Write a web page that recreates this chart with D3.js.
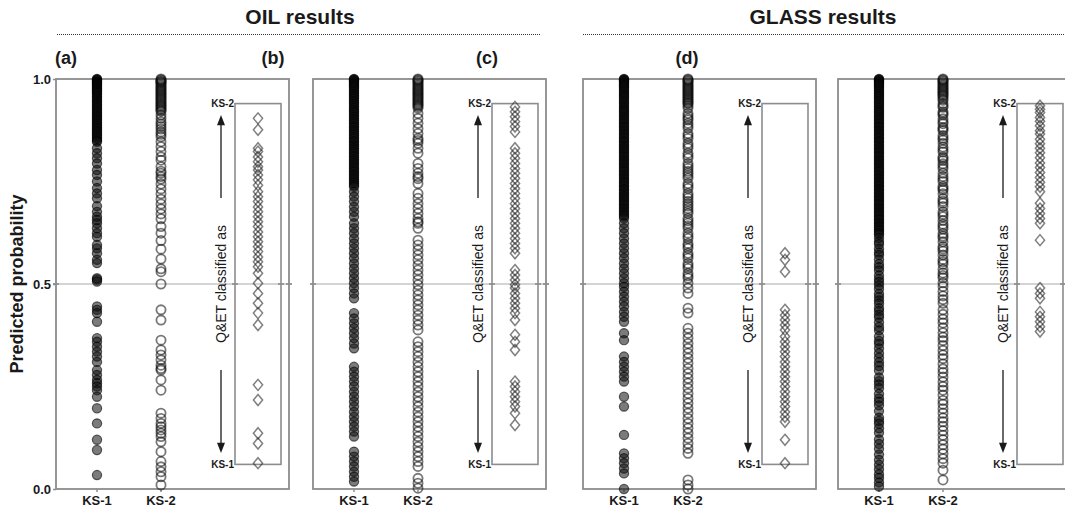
<!DOCTYPE html>
<html>
<head>
<meta charset="utf-8">
<script src="https://cdn.jsdelivr.net/npm/d3@7"></script>
<style>
  html, body { margin: 0; padding: 0; background: #fff; }
  svg { display: block; font-family: "Liberation Sans", Arial, sans-serif; }
</style>
</head>
<body>
<svg id="chart" width="1065" height="512"></svg>
<script>
// ---- Data: predicted probabilities per group ----
const groups = ["KS-1", "KS-2"];
const yTicks = [0.0, 0.5, 1.0];
const sectionTitles = ["OIL results", "GLASS results"];
const panelLetters = ["(a)", "(b)", "(c)", "(d)"];

// OIL, first model
const oil1KS1 = [1.0, 0.999, 0.997, 0.995, 0.993, 0.991, 0.989, 0.987, 0.984, 0.981, 0.978, 0.975, 0.972, 0.969, 0.966, 0.962, 0.958, 0.954, 0.95, 0.946, 0.942, 0.938, 0.934, 0.93, 0.926, 0.922, 0.918, 0.914, 0.91, 0.906, 0.902, 0.898, 0.894, 0.89, 0.886, 0.882, 0.878, 0.874, 0.87, 0.866, 0.862, 0.858, 0.854, 0.85,
  0.847, 0.831, 0.819, 0.807, 0.794, 0.778, 0.766, 0.75, 0.734, 0.721, 0.709, 0.69, 0.676, 0.664, 0.656, 0.648, 0.636, 0.624, 0.615, 0.595, 0.587, 0.575, 0.559, 0.551, 0.514, 0.511, 0.506,
  0.445, 0.437, 0.429, 0.408, 0.368, 0.359, 0.347, 0.335, 0.323, 0.31, 0.29, 0.278, 0.266, 0.258, 0.25, 0.241, 0.225, 0.197, 0.16, 0.12, 0.095, 0.034];
const oil1KS2 = [1.0, 0.998, 0.996, 0.994, 0.992, 0.99, 0.987, 0.984, 0.981, 0.978, 0.975, 0.972, 0.969, 0.966, 0.963, 0.96, 0.957, 0.954, 0.951, 0.948, 0.945, 0.942, 0.939, 0.936, 0.933, 0.93, 0.927, 0.924, 0.921,
  0.912, 0.904, 0.896, 0.89, 0.884, 0.878, 0.871, 0.865, 0.859, 0.847, 0.835, 0.823, 0.81, 0.802, 0.786, 0.775, 0.77, 0.762, 0.756, 0.744, 0.732, 0.72, 0.707, 0.695, 0.683, 0.671, 0.659, 0.64, 0.624, 0.606, 0.585, 0.561, 0.537, 0.53, 0.5,
  0.437, 0.412, 0.363, 0.339, 0.327, 0.315, 0.302, 0.294, 0.29, 0.266, 0.241, 0.185, 0.172, 0.16, 0.152, 0.144, 0.136, 0.128, 0.115, 0.091, 0.067, 0.054, 0.042, 0.03, 0.01];
const oil1QET = [0.904, 0.876, 0.831, 0.823, 0.81, 0.798, 0.786, 0.778, 0.766, 0.754, 0.741, 0.725, 0.713, 0.701, 0.688, 0.676, 0.664, 0.652, 0.64, 0.627, 0.615, 0.603, 0.591, 0.579, 0.566, 0.554, 0.542,
  0.526, 0.502, 0.477, 0.453, 0.429, 0.4, 0.254, 0.217, 0.136, 0.111, 0.063];

// OIL, second model
const oil2KS1 = [1.0, 0.999, 0.997, 0.995, 0.992, 0.989, 0.986, 0.983, 0.98, 0.976, 0.972, 0.968, 0.964, 0.96, 0.956, 0.952, 0.947, 0.943, 0.939, 0.934, 0.93, 0.925, 0.921, 0.917, 0.912, 0.908, 0.903, 0.899, 0.894, 0.89, 0.885, 0.881, 0.876, 0.872, 0.867, 0.863, 0.858, 0.854, 0.849, 0.845, 0.84, 0.836, 0.831, 0.827, 0.822, 0.818, 0.813, 0.809, 0.804, 0.8, 0.795, 0.791, 0.786, 0.782, 0.777, 0.773, 0.768, 0.764, 0.759, 0.755, 0.75, 0.746, 0.741, 0.737,
  0.725, 0.713, 0.701, 0.688, 0.676, 0.664, 0.648, 0.636, 0.624, 0.611, 0.599, 0.587, 0.575, 0.563, 0.55, 0.538, 0.526, 0.514, 0.502, 0.49, 0.477, 0.465,
  0.429, 0.416, 0.404, 0.392, 0.38, 0.368, 0.355, 0.343, 0.298, 0.286, 0.274, 0.262, 0.25, 0.237, 0.225, 0.213, 0.201, 0.188, 0.176, 0.164, 0.152, 0.14, 0.128,
  0.091, 0.079, 0.067, 0.055, 0.042, 0.03, 0.018];
const oil2KS2 = [1.0, 0.998, 0.996, 0.993, 0.99, 0.987, 0.984, 0.981, 0.978, 0.975, 0.972, 0.969, 0.966, 0.963, 0.96, 0.957, 0.954, 0.951, 0.948, 0.945, 0.942, 0.939, 0.936, 0.933, 0.929,
  0.916, 0.904, 0.892, 0.879, 0.867, 0.855, 0.85, 0.843, 0.831, 0.819, 0.794, 0.782, 0.77, 0.762, 0.757, 0.745, 0.721, 0.709, 0.696, 0.684, 0.672, 0.66, 0.652, 0.648, 0.636,
  0.607, 0.595, 0.583, 0.571, 0.559, 0.546, 0.534, 0.522, 0.51, 0.498, 0.485, 0.473, 0.461, 0.449, 0.437, 0.424, 0.412, 0.4, 0.388,
  0.359, 0.347, 0.335, 0.323, 0.31, 0.298, 0.286, 0.274, 0.262, 0.25, 0.237, 0.225, 0.213, 0.201, 0.188, 0.176, 0.164, 0.152, 0.14, 0.128, 0.115, 0.103, 0.091, 0.079, 0.067, 0.055,
  0.026, 0.014, 0.002];
const oil2QET = [0.932, 0.92, 0.908, 0.896, 0.884, 0.871, 0.831, 0.819, 0.807, 0.794, 0.782, 0.77, 0.758, 0.745, 0.733, 0.721, 0.709, 0.696, 0.684, 0.672, 0.66, 0.648, 0.636, 0.624, 0.611, 0.599, 0.587, 0.575,
  0.534, 0.522, 0.51, 0.498, 0.49, 0.477, 0.465, 0.453, 0.441, 0.429, 0.412, 0.376, 0.359, 0.339, 0.262, 0.25, 0.237, 0.225, 0.213, 0.201, 0.185, 0.156];

// GLASS, first model
const glass1KS1 = [1.0, 0.999, 0.997, 0.995, 0.992, 0.989, 0.986, 0.983, 0.98, 0.976, 0.972, 0.968, 0.964, 0.96, 0.956, 0.952, 0.947, 0.943, 0.939, 0.934, 0.93, 0.925, 0.921, 0.917, 0.912, 0.908, 0.903, 0.899, 0.894, 0.89, 0.885, 0.881, 0.876, 0.872, 0.867, 0.863, 0.858, 0.854, 0.849, 0.845, 0.84, 0.836, 0.831, 0.827, 0.822, 0.818, 0.813, 0.809, 0.804, 0.8, 0.795, 0.791, 0.786, 0.782, 0.777, 0.773, 0.768, 0.764, 0.759, 0.755, 0.75, 0.746, 0.741, 0.737,
  0.732, 0.728, 0.723, 0.719, 0.714, 0.71, 0.705, 0.701, 0.696, 0.692, 0.687, 0.683, 0.678, 0.674, 0.669, 0.665, 0.66,
  0.648, 0.636, 0.624, 0.611, 0.599, 0.587, 0.575, 0.563, 0.55, 0.538, 0.526, 0.514, 0.502, 0.493, 0.481, 0.469, 0.457, 0.445, 0.432, 0.42, 0.408, 0.38, 0.363,
  0.323, 0.31, 0.298, 0.286, 0.274, 0.262, 0.225, 0.201, 0.132, 0.087, 0.075, 0.063, 0.05, 0.038, 0.0];
const glass1KS2 = [1.0, 0.998, 0.996, 0.993, 0.99, 0.987, 0.984, 0.981, 0.978, 0.975, 0.972, 0.969, 0.966, 0.963, 0.96, 0.957, 0.954, 0.951, 0.948, 0.945, 0.942, 0.94,
  0.935, 0.929, 0.916, 0.91, 0.904, 0.9, 0.892, 0.886, 0.88, 0.867, 0.861, 0.855, 0.843, 0.837, 0.831, 0.819, 0.813, 0.807, 0.794, 0.788, 0.782, 0.775, 0.77, 0.764, 0.758, 0.745, 0.739, 0.733, 0.721, 0.715, 0.709, 0.702, 0.696, 0.69, 0.684, 0.678, 0.672, 0.66, 0.654, 0.648, 0.642, 0.636, 0.624, 0.617, 0.611, 0.599, 0.593, 0.587, 0.575, 0.569, 0.563, 0.55, 0.544, 0.538, 0.526, 0.52, 0.514, 0.502, 0.49, 0.477,
  0.441, 0.429, 0.392, 0.38, 0.368, 0.355, 0.343, 0.331, 0.319, 0.307, 0.294, 0.282, 0.27, 0.258, 0.246, 0.233, 0.221, 0.209, 0.197, 0.185, 0.172, 0.16, 0.148, 0.136, 0.124, 0.111, 0.099, 0.087,
  0.022, 0.01, 0.0];
const glass1QET = [0.575, 0.559, 0.53, 0.437, 0.424, 0.412, 0.4, 0.388, 0.372, 0.359, 0.347, 0.335, 0.323, 0.31, 0.298, 0.286, 0.274, 0.262, 0.25, 0.237, 0.225, 0.213, 0.201, 0.188, 0.176, 0.164, 0.12, 0.063];

// GLASS, second model
const glass2KS1 = [1.0, 0.999, 0.997, 0.995, 0.992, 0.989, 0.986, 0.983, 0.98, 0.976, 0.972, 0.968, 0.964, 0.96, 0.956, 0.952, 0.947, 0.943, 0.939, 0.934, 0.93, 0.925, 0.921, 0.917, 0.912, 0.908, 0.903, 0.899, 0.894, 0.89, 0.885, 0.881, 0.876, 0.872, 0.867, 0.863, 0.858, 0.854, 0.849, 0.845, 0.84, 0.836, 0.831, 0.827, 0.822, 0.818, 0.813, 0.809, 0.804, 0.8, 0.795, 0.791, 0.786, 0.782, 0.777, 0.773, 0.768, 0.764, 0.759, 0.755, 0.75, 0.746, 0.741, 0.737,
  0.732, 0.728, 0.723, 0.719, 0.714, 0.71, 0.705, 0.701, 0.696, 0.692, 0.687, 0.683, 0.678, 0.674, 0.669, 0.665, 0.66, 0.656, 0.651, 0.647, 0.642, 0.638, 0.633, 0.629, 0.624, 0.62,
  0.612, 0.603, 0.597, 0.586, 0.577, 0.571, 0.56, 0.549, 0.541, 0.533, 0.521, 0.512, 0.505, 0.497, 0.488, 0.476, 0.468, 0.46, 0.452, 0.441, 0.434, 0.425, 0.418, 0.406, 0.395, 0.387, 0.372, 0.361, 0.354, 0.343, 0.331, 0.32, 0.309, 0.3, 0.289, 0.272, 0.263, 0.255, 0.246, 0.232, 0.221, 0.213, 0.204, 0.19, 0.174, 0.166, 0.159, 0.148, 0.137, 0.121, 0.11, 0.098, 0.084, 0.071, 0.059, 0.048, 0.036, 0.027, 0.016, 0.006];
const glass2KS2 = [1.0, 0.998, 0.996, 0.993, 0.99, 0.987, 0.984, 0.981, 0.978, 0.975, 0.972, 0.969, 0.966, 0.963, 0.96, 0.957,
  0.952, 0.948, 0.94, 0.935, 0.931, 0.92, 0.916, 0.912, 0.903, 0.896, 0.891, 0.882, 0.878, 0.874, 0.862, 0.856, 0.851, 0.843, 0.834, 0.828, 0.822, 0.81, 0.806, 0.801, 0.793, 0.787, 0.781, 0.77, 0.762, 0.756, 0.75, 0.738, 0.733, 0.729, 0.72, 0.708, 0.702, 0.697, 0.689, 0.676, 0.67, 0.664, 0.655, 0.646, 0.64, 0.634, 0.623, 0.617, 0.612, 0.603, 0.591, 0.586, 0.58, 0.571, 0.56, 0.554, 0.548, 0.536, 0.527, 0.521, 0.515, 0.503, 0.494, 0.482, 0.471, 0.462, 0.453,
  0.437, 0.426, 0.414, 0.405, 0.393, 0.381, 0.37, 0.362, 0.35, 0.338, 0.327, 0.318, 0.305, 0.293, 0.284, 0.273, 0.261, 0.25, 0.241, 0.229, 0.216, 0.207, 0.196, 0.185, 0.173, 0.164, 0.153, 0.142, 0.131, 0.12, 0.108, 0.097, 0.086, 0.074, 0.063, 0.046, 0.022];
const glass2QET = [0.935, 0.926, 0.918, 0.906, 0.897, 0.886, 0.874, 0.866, 0.853, 0.842, 0.831, 0.82, 0.808, 0.795, 0.784, 0.772, 0.76, 0.748, 0.737, 0.725,
  0.697, 0.684, 0.672, 0.66, 0.648, 0.607, 0.49, 0.477, 0.465, 0.432, 0.42, 0.408, 0.396, 0.384];

// ---- Layout ----
const panelLeft = [56, 313, 583, 838];
const panelWidth = 233;
const panels = [
  { ks1: oil1KS1, ks2: oil1KS2, qet: oil1QET },
  { ks1: oil2KS1, ks2: oil2KS2, qet: oil2QET },
  { ks1: glass1KS1, ks2: glass1KS2, qet: glass1QET },
  { ks1: glass2KS1, ks2: glass2KS2, qet: glass2QET }
];

const svg = d3.select("#chart");
const y = d3.scaleLinear().domain([0, 1]).range([489, 79]);
// column offsets inside a panel
const col = d3.scaleOrdinal().domain(["KS-1", "KS-2", "Q&ET"]).range([41, 105, 202]);
const boxLeftOff = 179, boxRightOff = 225, arrowOff = 165;
const boxTop = 0.94, boxBottom = 0.06;
const ink = "#1a1a1a";

// ---- Section titles with dotted rules ----
const sections = [
  { title: sectionTitles[0], cx: 300, x0: 57, x1: 541 },
  { title: sectionTitles[1], cx: 823, x0: 583, x1: 1065 }
];
sections.forEach(s => {
  svg.append("text").attr("x", s.cx).attr("y", 24).attr("text-anchor", "middle")
    .attr("font-size", 21).attr("font-weight", "bold").attr("fill", ink).text(s.title);
  svg.append("line").attr("x1", s.x0).attr("x2", s.x1).attr("y1", 34.5).attr("y2", 34.5)
    .attr("stroke", "#333").attr("stroke-width", 1).attr("stroke-dasharray", "1,1");
});

// ---- Panel letters ----
const letterX = [66, 273, 487, 687];
panelLetters.forEach((t, i) => {
  svg.append("text").attr("x", letterX[i]).attr("y", 64).attr("text-anchor", "middle")
    .attr("font-size", 18).attr("font-weight", "bold").attr("fill", ink).text(t);
});

// ---- Y axis title ----
svg.append("text")
  .attr("transform", `translate(23,${y(0.5)}) rotate(-90)`)
  .attr("text-anchor", "middle").attr("font-size", 18).attr("font-weight", "bold").attr("fill", ink)
  .text("Predicted probability");

const diamond = "M0,-5.5L4.6,0L0,5.5L-4.6,0Z";

panels.forEach((p, i) => {
  const g = svg.append("g").attr("transform", `translate(${panelLeft[i]},0)`);

  // 0.5 reference line
  g.append("line").attr("x1", 0).attr("x2", panelWidth).attr("y1", y(0.5)).attr("y2", y(0.5))
    .attr("stroke", "#d4d4d4").attr("stroke-width", 2);
  [0, boxLeftOff, boxRightOff, panelWidth].forEach(xx => {
    g.append("line").attr("x1", xx - 3).attr("x2", xx + 3).attr("y1", y(0.5)).attr("y2", y(0.5))
      .attr("stroke", "#9a9a9a").attr("stroke-width", 2);
  });

  // outer frame
  g.append("rect").attr("x", 0).attr("y", y(1)).attr("width", panelWidth).attr("height", y(0) - y(1))
    .attr("fill", "none").attr("stroke", "#8c8c8c").attr("stroke-width", 1.8);

  // inner Q&ET box
  g.append("rect").attr("x", boxLeftOff).attr("y", y(boxTop))
    .attr("width", boxRightOff - boxLeftOff).attr("height", y(boxBottom) - y(boxTop))
    .attr("fill", "none").attr("stroke", "#8c8c8c").attr("stroke-width", 1.6);
  g.append("text").attr("x", boxLeftOff - 1).attr("y", y(boxTop)).attr("dy", "0.35em")
    .attr("text-anchor", "end").attr("font-size", 10).attr("font-weight", "bold").attr("fill", ink).text("KS-2");
  g.append("text").attr("x", boxLeftOff - 1).attr("y", y(boxBottom)).attr("dy", "0.35em")
    .attr("text-anchor", "end").attr("font-size", 10).attr("font-weight", "bold").attr("fill", ink).text("KS-1");

  // arrows and rotated caption
  g.append("line").attr("x1", arrowOff).attr("x2", arrowOff).attr("y1", y(0.71)).attr("y2", y(0.89))
    .attr("stroke", ink).attr("stroke-width", 1.3);
  g.append("path").attr("d", `M${arrowOff},${y(0.912)}L${arrowOff - 4},${y(0.887)}L${arrowOff + 4},${y(0.887)}Z`).attr("fill", ink);
  g.append("line").attr("x1", arrowOff).attr("x2", arrowOff).attr("y1", y(0.29)).attr("y2", y(0.11))
    .attr("stroke", ink).attr("stroke-width", 1.3);
  g.append("path").attr("d", `M${arrowOff},${y(0.088)}L${arrowOff - 4},${y(0.113)}L${arrowOff + 4},${y(0.113)}Z`).attr("fill", ink);
  g.append("text").attr("transform", `translate(${arrowOff},${y(0.5)}) rotate(-90)`)
    .attr("text-anchor", "middle").attr("dy", "0.35em").attr("font-size", 14).attr("fill", ink)
    .text("Q&ET classified as");

  // bottom ticks and category labels
  groups.forEach(k => {
    g.append("line").attr("x1", col(k)).attr("x2", col(k)).attr("y1", y(0)).attr("y2", y(0) + 3)
      .attr("stroke", "#8c8c8c").attr("stroke-width", 1.5);
    g.append("text").attr("x", col(k)).attr("y", 505).attr("text-anchor", "middle")
      .attr("font-size", 13).attr("font-weight", "bold").attr("fill", ink).text(k);
  });

  // KS-1 points (filled)
  g.append("g").selectAll("circle").data(p.ks1).join("circle")
    .attr("cx", col("KS-1")).attr("cy", d => y(d)).attr("r", 4.6)
    .attr("fill", "#0e0e0e").attr("fill-opacity", 0.55)
    .attr("stroke", "#000").attr("stroke-opacity", 0.6).attr("stroke-width", 1.2);

  // KS-2 points (open)
  g.append("g").selectAll("circle").data(p.ks2).join("circle")
    .attr("cx", col("KS-2")).attr("cy", d => y(d)).attr("r", 4.6)
    .attr("fill", "none")
    .attr("stroke", "#0e0e0e").attr("stroke-opacity", 0.56).attr("stroke-width", 1.8);

  // Q&ET points (open diamonds)
  g.append("g").selectAll("path").data(p.qet).join("path")
    .attr("d", diamond).attr("transform", d => `translate(${col("Q&ET")},${y(d)})`)
    .attr("fill", "none").attr("stroke", "#222").attr("stroke-opacity", 0.58).attr("stroke-width", 1.5);
});

// ---- Y axis on the first panel ----
const axis = d3.axisLeft(y).tickValues(yTicks).tickFormat(d3.format(".1f")).tickSize(3).tickPadding(2);
const ax = svg.append("g").attr("transform", `translate(${panelLeft[0]},0)`).call(axis);
ax.select(".domain").remove();
ax.selectAll(".tick line").attr("stroke", "#8c8c8c").attr("stroke-width", 1.5);
ax.selectAll(".tick text").attr("font-size", 13).attr("font-weight", "bold").attr("fill", ink)
  .attr("font-family", "Liberation Sans, Arial, sans-serif");
</script>
</body>
</html>
